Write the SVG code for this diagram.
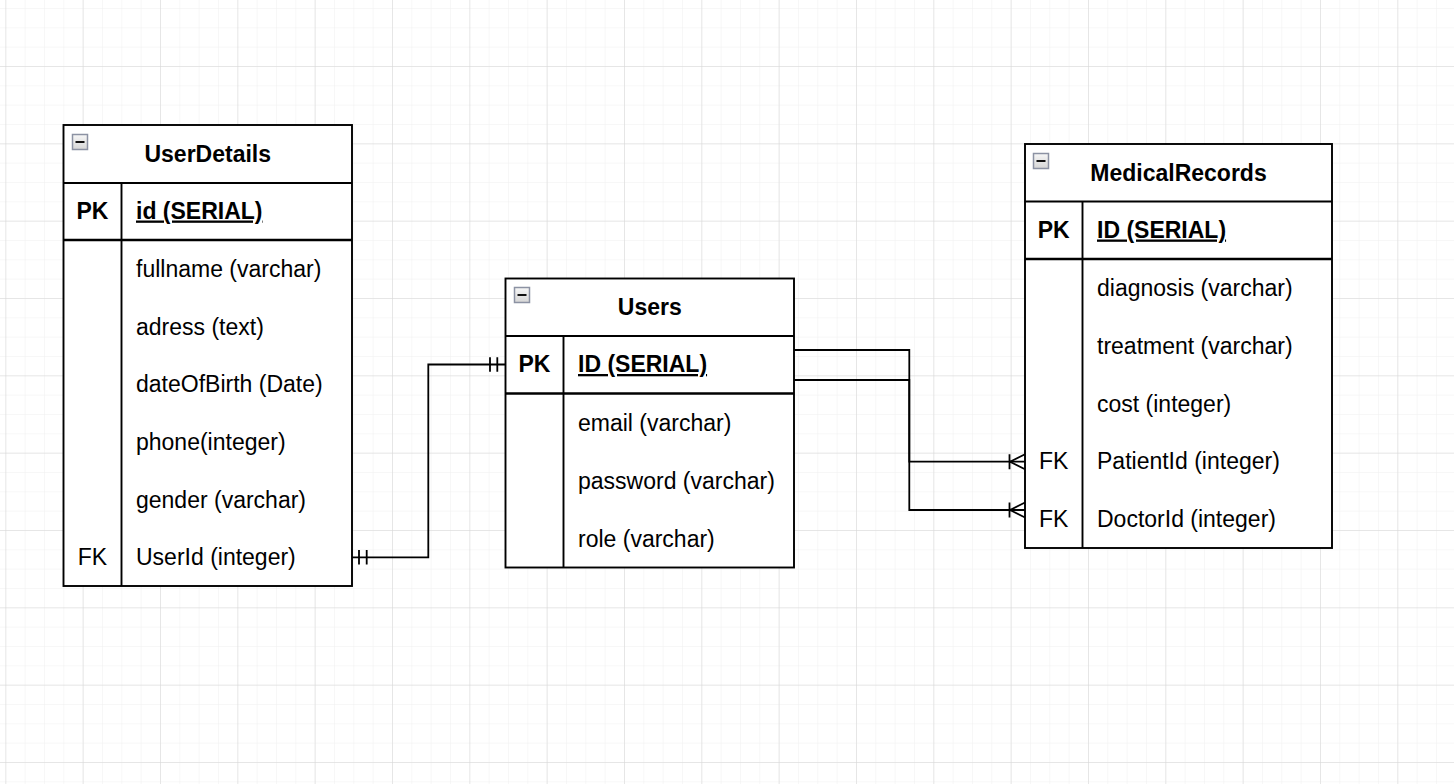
<svg xmlns="http://www.w3.org/2000/svg" width="1454" height="784" viewBox="0 0 1454 784">
  <defs>
    <pattern id="minor" patternUnits="userSpaceOnUse" x="5.33" y="8" width="19.333" height="19.333">
      <path d="M0,0 V19.333 M0,0 H19.333" fill="none" stroke="#f0f0f0" stroke-width="1"/>
    </pattern>
    <pattern id="major" patternUnits="userSpaceOnUse" x="5.33" y="-11.33" width="77.333" height="77.333">
      <path d="M0,0 V77.333 M0,0 H77.333" fill="none" stroke="#d6d6d6" stroke-width="1"/>
    </pattern>
    <linearGradient id="btn" x1="0" y1="0" x2="0" y2="1">
      <stop offset="0" stop-color="#f7f7f7"/>
      <stop offset="1" stop-color="#d6d6d6"/>
    </linearGradient>
    <g id="collapse">
      <rect x="0.5" y="0.5" width="15" height="15" fill="url(#btn)" stroke="#8c92a3" stroke-width="1.5"/>
      <rect x="3.5" y="7" width="9" height="2" fill="#111"/>
    </g>
  </defs>
  <style>
    .tbl { fill: #ffffff; stroke: #000000; stroke-width: 1.9; }
    .ln { fill: none; stroke: #000000; stroke-width: 1.9; }
    .pkln { fill: none; stroke: #000000; stroke-width: 2.4; }
    .title { font-family: "Liberation Sans", Arial, sans-serif; font-size: 23px; font-weight: bold; fill: #000; text-anchor: middle; }
    .key { font-family: "Liberation Sans", Arial, sans-serif; font-size: 23px; fill: #000; text-anchor: middle; }
    .pk { font-weight: bold; }
    .fld { font-family: "Liberation Sans", Arial, sans-serif; font-size: 23px; fill: #000; }
    .pkf { font-weight: bold; text-decoration: underline; }
    .edge { fill: none; stroke: #000000; stroke-width: 1.8; }
  </style>

  <!-- background grid -->
  <rect width="1454" height="784" fill="#ffffff"/>
  <rect width="1454" height="784" fill="url(#minor)"/>
  <rect width="1454" height="784" fill="url(#major)"/>

  <!-- relationships -->
  <g id="connectors">
    <!-- UserDetails.UserId -> Users.ID (one to one) -->
    <path class="edge" d="M352,557.3 H428.3 V364.5 H505.5"/>
    <path class="edge" d="M359,550 V564.6 M366.7,550 V564.6"/>
    <path class="edge" d="M490,357.2 V371.8 M497.3,357.2 V371.8"/>
    <!-- Users.ID -> MedicalRecords.DoctorId (one to many) -->
    <path class="edge" d="M794,350 H909.3 V510 H1025"/>
    <path class="edge" d="M1009.5,502.5 V517.5 M1010,510 L1025,502.5 M1010,510 L1025,517.5"/>
    <!-- Users.ID -> MedicalRecords.PatientId (one to many) -->
    <path class="edge" d="M794,380 H909.3 V461.7 H1025"/>
    <path class="edge" d="M1009.5,454.2 V469.2 M1010,461.7 L1025,454.2 M1010,461.7 L1025,469.2"/>
  </g>

  <!-- UserDetails table -->
  <g id="UserDetails">
    <rect class="tbl" x="63.5" y="125" width="288.5" height="461"/>
    <path class="ln" d="M63.5,183 H352 M121.5,183 V586"/>
    <path class="pkln" d="M63.5,240 H352"/>
    <use href="#collapse" x="72" y="134"/>
    <text class="title" x="207.75" y="162">UserDetails</text>
    <text class="key pk" x="92.5" y="218.5">PK</text>
    <text class="fld pkf" x="136" y="218.5">id (SERIAL)</text>
    <text class="fld" x="136" y="276.8">fullname (varchar)</text>
    <text class="fld" x="136" y="334.5">adress (text)</text>
    <text class="fld" x="136" y="392.2">dateOfBirth (Date)</text>
    <text class="fld" x="136" y="449.8">phone(integer)</text>
    <text class="fld" x="136" y="507.5">gender (varchar)</text>
    <text class="key" x="92.5" y="565.2">FK</text>
    <text class="fld" x="136" y="565.2">UserId (integer)</text>
  </g>

  <!-- Users table -->
  <g id="Users">
    <rect class="tbl" x="505.5" y="278.5" width="288.5" height="289"/>
    <path class="ln" d="M505.5,336 H794 M563.5,336 V567.5"/>
    <path class="pkln" d="M505.5,393.5 H794"/>
    <use href="#collapse" x="514" y="287"/>
    <text class="title" x="649.75" y="315">Users</text>
    <text class="key pk" x="534.5" y="372">PK</text>
    <text class="fld pkf" x="578" y="372">ID (SERIAL)</text>
    <text class="fld" x="578" y="431">email (varchar)</text>
    <text class="fld" x="578" y="488.7">password (varchar)</text>
    <text class="fld" x="578" y="546.5">role (varchar)</text>
  </g>

  <!-- MedicalRecords table -->
  <g id="MedicalRecords">
    <rect class="tbl" x="1025" y="144" width="307" height="404"/>
    <path class="ln" d="M1025,201.5 H1332 M1082.5,201.5 V548"/>
    <path class="pkln" d="M1025,259 H1332"/>
    <use href="#collapse" x="1033" y="153"/>
    <text class="title" x="1178.5" y="180.5">MedicalRecords</text>
    <text class="key pk" x="1053.75" y="237.5">PK</text>
    <text class="fld pkf" x="1097" y="237.5">ID (SERIAL)</text>
    <text class="fld" x="1097" y="295.9">diagnosis (varchar)</text>
    <text class="fld" x="1097" y="353.7">treatment (varchar)</text>
    <text class="fld" x="1097" y="411.5">cost (integer)</text>
    <text class="key" x="1053.75" y="469.3">FK</text>
    <text class="fld" x="1097" y="469.3">PatientId (integer)</text>
    <text class="key" x="1053.75" y="527.1">FK</text>
    <text class="fld" x="1097" y="527.1">DoctorId (integer)</text>
  </g>
</svg>
